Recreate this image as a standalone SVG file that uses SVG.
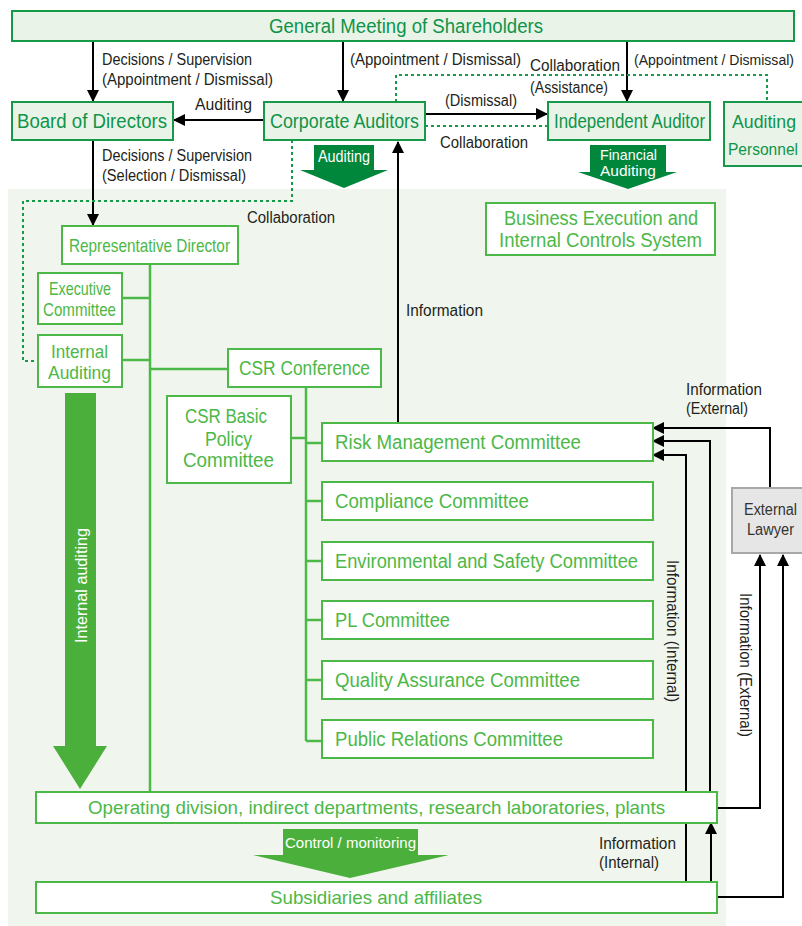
<svg xmlns="http://www.w3.org/2000/svg" width="802" height="926" viewBox="0 0 802 926">
<defs>
<style>
.top{fill:#e9f3e7;stroke:#17994a;stroke-width:2}
.ttop{fill:#0f944a;font-family:"Liberation Sans",Arial,sans-serif;font-size:20px}
.low{fill:#ffffff;stroke:#4cb847;stroke-width:2}
.tlow{fill:#4cb847;font-family:"Liberation Sans",Arial,sans-serif;font-size:20px}
.lbl{fill:#231f20;font-family:"Liberation Sans",Arial,sans-serif;font-size:16px}
.wt{fill:#ffffff;font-family:"Liberation Sans",Arial,sans-serif;font-size:15px}
.arr{fill:none;stroke:#000;stroke-width:2;marker-end:url(#ah)}
.dot{fill:none;stroke:#17994a;stroke-width:2;stroke-dasharray:3 3}
.org{fill:none;stroke:#4cb847;stroke-width:2.5}
</style>
<marker id="ah" markerUnits="userSpaceOnUse" markerWidth="12" markerHeight="12" refX="11" refY="6" orient="auto">
<path d="M0,0 L12,6 L0,12 z" fill="#000"/>
</marker>
</defs>
<rect width="802" height="926" fill="#fff"/>
<rect id="panel" x="8" y="189" width="718" height="737" fill="#f0f6ed"/>

<g id="connectors">
<path class="arr" d="M93,41 V101"/>
<path class="arr" d="M343,41 V101"/>
<path class="arr" d="M627,41 V101"/>
<path class="arr" d="M264,120 H174"/>
<path class="arr" d="M425,114 H547"/>
<path class="dot" d="M425,126 H548"/>
<path class="dot" d="M396,102 V75 H767 V102"/>
<path class="arr" d="M93,140 V225"/>
<path class="dot" d="M292,140 V201 H23 V361 H38"/>
<path class="arr" d="M398,423 V142"/>
<path class="arr" d="M770,488 V428 H653"/>
<path class="arr" d="M710,792 V441 H653"/>
<path class="arr" d="M686,882 V455 H653"/>
<path class="arr" d="M711,882 V823"/>
<path class="arr" d="M717,808 H760 V555"/>
<path class="arr" d="M717,897 H783 V555"/>
<path class="org" d="M150,264 V792 M122,298 H150 M122,360 H150 M150,369 H228 M306,387 V741 M291,438 H306 M306,443 H322 M306,501 H322 M306,561 H322 M306,620 H322 M306,680 H322 M306,741 H322"/>
<text class="lbl" x="102" y="65" textLength="150" lengthAdjust="spacingAndGlyphs">Decisions / Supervision</text>
<text class="lbl" x="102" y="85" textLength="171" lengthAdjust="spacingAndGlyphs">(Appointment / Dismissal)</text>
<text class="lbl" x="350" y="65" textLength="171" lengthAdjust="spacingAndGlyphs">(Appointment / Dismissal)</text>
<text class="lbl" x="634" y="65" style="font-size:14px" textLength="160" lengthAdjust="spacingAndGlyphs">(Appointment / Dismissal)</text>
<text class="lbl" x="530" y="71" textLength="90" lengthAdjust="spacingAndGlyphs">Collaboration</text>
<text class="lbl" x="530" y="93" textLength="78" lengthAdjust="spacingAndGlyphs">(Assistance)</text>
<text class="lbl" x="195" y="110" textLength="57" lengthAdjust="spacingAndGlyphs">Auditing</text>
<text class="lbl" x="445" y="106" textLength="72" lengthAdjust="spacingAndGlyphs">(Dismissal)</text>
<text class="lbl" x="440" y="148" textLength="88" lengthAdjust="spacingAndGlyphs">Collaboration</text>
<text class="lbl" x="102" y="161" textLength="150" lengthAdjust="spacingAndGlyphs">Decisions / Supervision</text>
<text class="lbl" x="102" y="181" textLength="144" lengthAdjust="spacingAndGlyphs">(Selection / Dismissal)</text>
<text class="lbl" x="247" y="223" textLength="88" lengthAdjust="spacingAndGlyphs">Collaboration</text>
<text class="lbl" x="406" y="316" textLength="77" lengthAdjust="spacingAndGlyphs">Information</text>
<text class="lbl" x="686" y="395" textLength="76" lengthAdjust="spacingAndGlyphs">Information</text>
<text class="lbl" x="686" y="414" textLength="62" lengthAdjust="spacingAndGlyphs">(External)</text>
<text class="lbl" x="599" y="849" textLength="77" lengthAdjust="spacingAndGlyphs">Information</text>
<text class="lbl" x="599" y="868" textLength="60" lengthAdjust="spacingAndGlyphs">(Internal)</text>
<text class="lbl" transform="translate(667,560) rotate(90)" x="0" y="0" textLength="142" lengthAdjust="spacingAndGlyphs">Information (Internal)</text>
<text class="lbl" transform="translate(740,593) rotate(90)" x="0" y="0" textLength="144" lengthAdjust="spacingAndGlyphs">Information (External)</text>
</g>

<g id="general-meeting"><rect class="top" x="12" y="11" width="782" height="30"/><text class="ttop" x="269" y="33" textLength="274" lengthAdjust="spacingAndGlyphs">General Meeting of Shareholders</text></g>
<g id="board"><rect class="top" x="12" y="102" width="161" height="38"/><text class="ttop" x="17" y="128" textLength="150" lengthAdjust="spacingAndGlyphs">Board of Directors</text></g>
<g id="corporate-auditors"><rect class="top" x="264" y="102" width="161" height="38"/><text class="ttop" x="270" y="128" textLength="149" lengthAdjust="spacingAndGlyphs">Corporate Auditors</text></g>
<g id="independent-auditor"><rect class="top" x="548" y="102" width="162" height="38"/><text class="ttop" x="554" y="128" textLength="151" lengthAdjust="spacingAndGlyphs">Independent Auditor</text></g>
<g id="auditing-personnel"><rect class="top" x="724" y="102" width="80" height="64"/><text class="ttop" x="732" y="128" style="font-size:18px" textLength="64" lengthAdjust="spacingAndGlyphs">Auditing</text><text class="ttop" x="728" y="155" style="font-size:16px" textLength="70" lengthAdjust="spacingAndGlyphs">Personnel</text></g>

<g id="auditing-arrow"><path d="M314,145 H374 V170 H388 L344,188 L300,170 H314 Z" fill="#00873c"/><text class="wt" x="318" y="162" textLength="52" lengthAdjust="spacingAndGlyphs" style="font-size:16px">Auditing</text></g>
<g id="financial-auditing-arrow"><path d="M590,145 H666 V172 H677 L628,189 L578,172 H590 Z" fill="#00873c"/><text class="wt" x="600" y="160" textLength="57" lengthAdjust="spacingAndGlyphs">Financial</text><text class="wt" x="600" y="176" textLength="56" lengthAdjust="spacingAndGlyphs">Auditing</text></g>

<g id="business-execution"><rect class="low" x="486" y="203" width="229" height="52"/><text class="tlow" x="504" y="225" textLength="194" lengthAdjust="spacingAndGlyphs">Business Execution and</text><text class="tlow" x="499" y="247" textLength="203" lengthAdjust="spacingAndGlyphs">Internal Controls System</text></g>
<g id="representative-director"><rect class="low" x="62" y="226" width="176" height="38"/><text class="tlow" x="69" y="252" textLength="161" lengthAdjust="spacingAndGlyphs" style="font-size:19px">Representative Director</text></g>
<g id="executive-committee"><rect class="low" x="38" y="273" width="84" height="51"/><text class="tlow" x="49" y="295" textLength="62" lengthAdjust="spacingAndGlyphs" style="font-size:19px">Executive</text><text class="tlow" x="43" y="316" textLength="73" lengthAdjust="spacingAndGlyphs" style="font-size:19px">Committee</text></g>
<g id="internal-auditing"><rect class="low" x="38" y="335" width="84" height="52"/><text class="tlow" x="51" y="358" textLength="57" lengthAdjust="spacingAndGlyphs" style="font-size:19px">Internal</text><text class="tlow" x="48" y="379" textLength="63" lengthAdjust="spacingAndGlyphs" style="font-size:19px">Auditing</text></g>
<g id="csr-conference"><rect class="low" x="228" y="349" width="153" height="38"/><text class="tlow" x="239" y="375" textLength="131" lengthAdjust="spacingAndGlyphs">CSR Conference</text></g>
<g id="csr-basic-policy"><rect class="low" x="167" y="396" width="124" height="87"/><text class="tlow" x="185" y="423" textLength="82" lengthAdjust="spacingAndGlyphs">CSR Basic</text><text class="tlow" x="205" y="446" textLength="47" lengthAdjust="spacingAndGlyphs">Policy</text><text class="tlow" x="183" y="467" textLength="91" lengthAdjust="spacingAndGlyphs">Committee</text></g>
<g id="risk-management"><rect class="low" x="322" y="423" width="331" height="38"/><text class="tlow" x="335" y="449" textLength="246" lengthAdjust="spacingAndGlyphs">Risk Management Committee</text></g>
<g id="compliance"><rect class="low" x="322" y="482" width="331" height="38"/><text class="tlow" x="335" y="508" textLength="194" lengthAdjust="spacingAndGlyphs">Compliance Committee</text></g>
<g id="environmental-safety"><rect class="low" x="322" y="542" width="331" height="38"/><text class="tlow" x="335" y="568" textLength="303" lengthAdjust="spacingAndGlyphs">Environmental and Safety Committee</text></g>
<g id="pl-committee"><rect class="low" x="322" y="601" width="331" height="38"/><text class="tlow" x="335" y="627" textLength="115" lengthAdjust="spacingAndGlyphs">PL Committee</text></g>
<g id="quality-assurance"><rect class="low" x="322" y="661" width="331" height="38"/><text class="tlow" x="335" y="687" textLength="245" lengthAdjust="spacingAndGlyphs">Quality Assurance Committee</text></g>
<g id="public-relations"><rect class="low" x="322" y="720" width="331" height="38"/><text class="tlow" x="335" y="746" textLength="228" lengthAdjust="spacingAndGlyphs">Public Relations Committee</text></g>

<g id="internal-auditing-arrow"><path d="M65,393 H96 V746 H107 L80,789 L53,746 H65 Z" fill="#4bb03b"/><text class="wt" style="font-size:16px" transform="translate(87,643) rotate(-90)" x="0" y="0" textLength="115" lengthAdjust="spacingAndGlyphs">Internal auditing</text></g>

<g id="operating-division"><rect class="low" x="36" y="792" width="681" height="31"/><text class="tlow" x="88" y="814" textLength="577" lengthAdjust="spacingAndGlyphs" style="font-size:19px">Operating division, indirect departments, research laboratories, plants</text></g>
<g id="control-monitoring-arrow"><path d="M283,829 H418 V855 H449 L350,878 L253,855 H283 Z" fill="#4bb03b"/><text class="wt" x="285" y="848" textLength="131" lengthAdjust="spacingAndGlyphs" style="font-size:14px">Control / monitoring</text></g>
<g id="subsidiaries"><rect class="low" x="36" y="882" width="681" height="31"/><text class="tlow" x="270" y="904" textLength="212" lengthAdjust="spacingAndGlyphs" style="font-size:19px">Subsidiaries and affiliates</text></g>

<g id="external-lawyer"><rect x="732" y="488" width="80" height="65" fill="#e6e6e6" stroke="#a8a8a8" stroke-width="2"/><text x="744" y="515" textLength="53" lengthAdjust="spacingAndGlyphs" fill="#333" font-family="Liberation Sans, Arial, sans-serif" font-size="16">External</text><text x="747" y="535" textLength="47" lengthAdjust="spacingAndGlyphs" fill="#333" font-family="Liberation Sans, Arial, sans-serif" font-size="16">Lawyer</text></g>
</svg>
